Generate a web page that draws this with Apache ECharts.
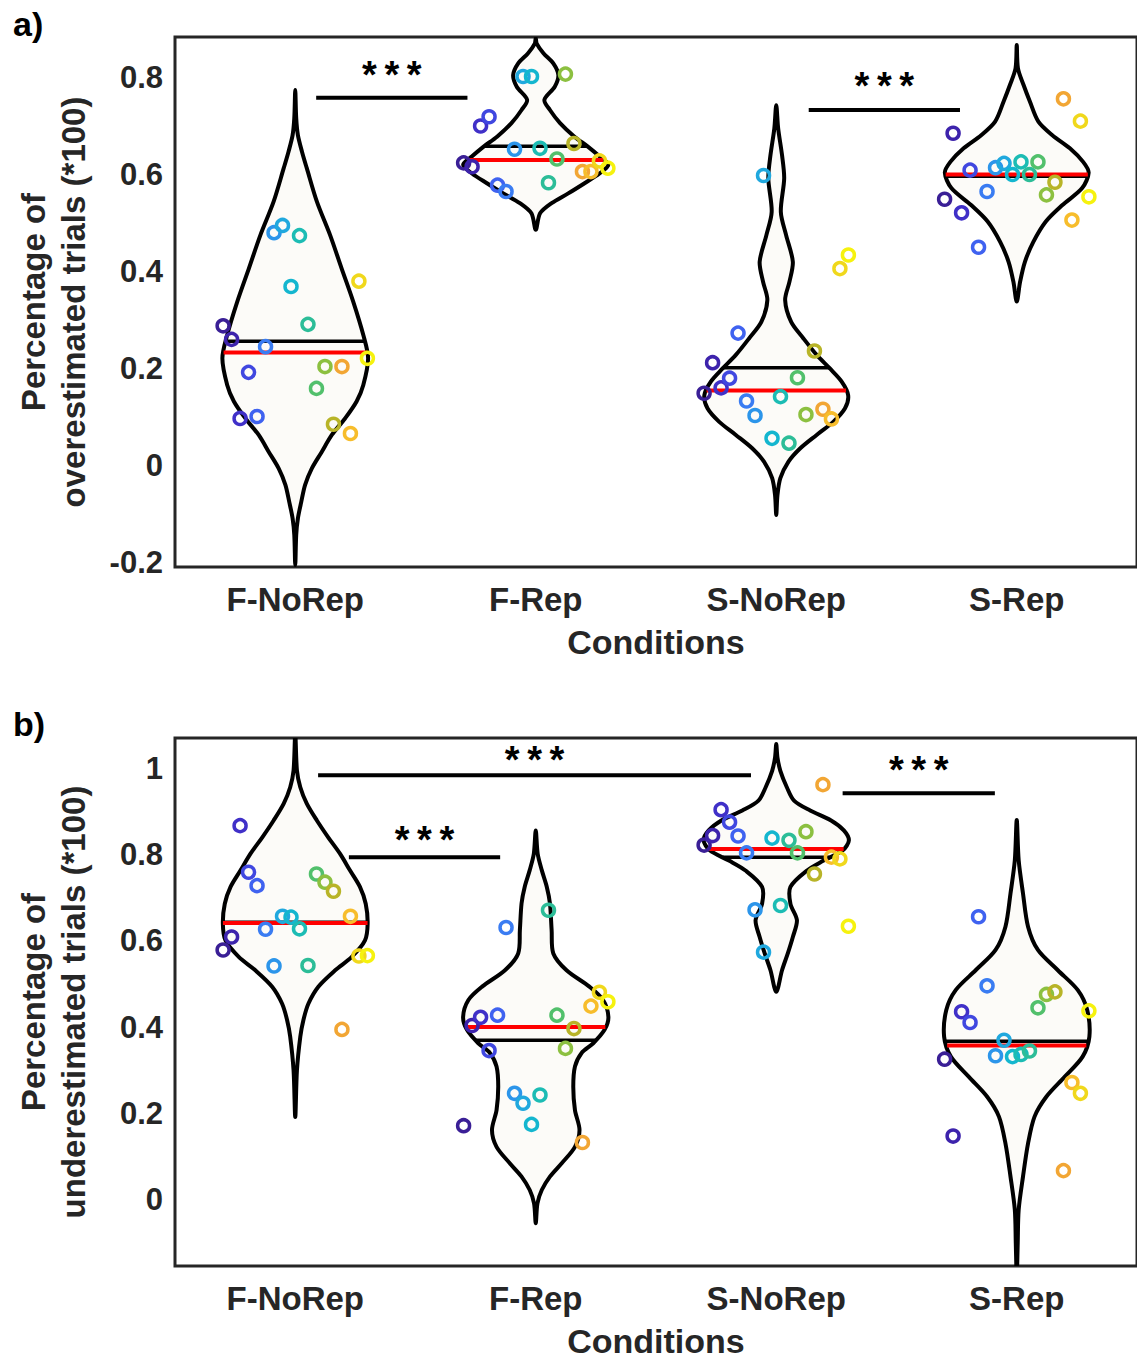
<!DOCTYPE html>
<html>
<head>
<meta charset="utf-8">
<script src="https://cdn.jsdelivr.net/npm/echarts@6/dist/echarts.min.js"></script>
<style>
html, body { margin: 0; padding: 0; background: #fff; }
#main { width: 1137px; height: 1362px; }
</style>
</head>
<body>
<div id="main"></div>
<script>
// conditions and axis ticks
var conditions = ['F-NoRep', 'F-Rep', 'S-NoRep', 'S-Rep'];
var yTicksA = [-0.2, 0, 0.2, 0.4, 0.6, 0.8];
var yTicksB = [0, 0.2, 0.4, 0.6, 0.8, 1];

// a) overestimated trials, one value per subject (subject 1..18)
var overFNoRep = [0.287, 0.259, 0.096, 0.191, 0.100, 0.244, 0.479, 0.494, 0.368, 0.473, 0.290, 0.158, 0.203, 0.084, 0.203, 0.065, 0.379, 0.220];
var overFRep = [0.623, 0.615, 0.699, 0.718, 0.577, 0.564, 0.651, 0.801, 0.801, 0.653, 0.582, 0.631, 0.806, 0.663, 0.605, 0.605, 0.627, 0.612];
var overSNoRep = [0.148, 0.211, 0.159, 0.179, 0.272, 0.132, 0.102, 0.597, 0.055, 0.141, 0.045, 0.180, 0.104, 0.235, 0.115, 0.095, 0.405, 0.433];
var overSRep = [0.548, 0.684, 0.520, 0.608, 0.449, 0.564, 0.613, 0.622, 0.599, 0.625, 0.599, 0.625, 0.557, 0.583, 0.755, 0.505, 0.709, 0.553];

// b) underestimated trials
var underFNoRep = [0.579, 0.609, 0.867, 0.759, 0.728, 0.627, 0.542, 0.657, 0.655, 0.628, 0.543, 0.755, 0.736, 0.715, 0.395, 0.657, 0.565, 0.566];
var underFRep = [0.172, 0.404, 0.423, 0.346, 0.428, 0.631, 0.247, 0.224, 0.175, 0.243, 0.671, 0.428, 0.351, 0.397, 0.133, 0.449, 0.481, 0.459];
var underSNoRep = [0.822, 0.844, 0.904, 0.875, 0.843, 0.804, 0.672, 0.574, 0.838, 0.682, 0.833, 0.804, 0.853, 0.755, 0.962, 0.794, 0.790, 0.634];
var underSRep = [0.326, 0.148, 0.436, 0.411, 0.656, 0.496, 0.334, 0.370, 0.332, 0.337, 0.345, 0.445, 0.476, 0.482, 0.068, 0.272, 0.247, 0.438];

// violin outlines: value levels (top to bottom) and half widths (x units)
var overFNoRepY = [0.773, 0.715, 0.680, 0.646, 0.612, 0.543, 0.474, 0.405, 0.337, 0.268, 0.220, 0.165, 0.131, 0.096, 0.062, 0.027, -0.007, -0.041, -0.076, -0.110, -0.144, -0.206];
var overFNoRepW = [0, 0.004, 0.011, 0.028, 0.048, 0.090, 0.145, 0.193, 0.241, 0.283, 0.303, 0.283, 0.255, 0.207, 0.152, 0.110, 0.069, 0.041, 0.025, 0.011, 0.004, 0];
var overFRepY = [0.880, 0.869, 0.849, 0.828, 0.804, 0.780, 0.753, 0.732, 0.705, 0.677, 0.656, 0.636, 0.619, 0.601, 0.581, 0.560, 0.540, 0.519, 0.485];
var overFRepW = [0, 0.004, 0.032, 0.073, 0.094, 0.079, 0.036, 0.059, 0.101, 0.161, 0.218, 0.266, 0.302, 0.265, 0.203, 0.135, 0.066, 0.018, 0];
var overSNoRepY = [0.742, 0.694, 0.639, 0.591, 0.522, 0.474, 0.419, 0.378, 0.340, 0.295, 0.261, 0.227, 0.199, 0.172, 0.144, 0.117, 0.089, 0.062, 0.034, 0.007, -0.027, -0.062, -0.103];
var overSNoRepW = [0, 0.008, 0.024, 0.033, 0.019, 0.041, 0.069, 0.055, 0.037, 0.062, 0.113, 0.168, 0.223, 0.272, 0.299, 0.286, 0.237, 0.168, 0.099, 0.051, 0.017, 0.005, 0];
var overSRepY = [0.866, 0.818, 0.784, 0.749, 0.708, 0.680, 0.653, 0.625, 0.603, 0.571, 0.536, 0.502, 0.460, 0.419, 0.378, 0.337];
var overSRepW = [0, 0.005, 0.028, 0.055, 0.090, 0.148, 0.221, 0.276, 0.299, 0.272, 0.190, 0.121, 0.069, 0.034, 0.014, 0];

var underFNoRepY = [1.080, 0.995, 0.956, 0.918, 0.879, 0.840, 0.802, 0.763, 0.725, 0.686, 0.640, 0.601, 0.563, 0.532, 0.494, 0.455, 0.417, 0.378, 0.300, 0.192];
var underFNoRepW = [0, 0.007, 0.021, 0.048, 0.090, 0.137, 0.186, 0.228, 0.269, 0.293, 0.301, 0.290, 0.235, 0.166, 0.096, 0.055, 0.034, 0.021, 0.007, 0];
var underFRepY = [0.856, 0.802, 0.764, 0.725, 0.687, 0.625, 0.571, 0.532, 0.494, 0.463, 0.424, 0.394, 0.363, 0.340, 0.309, 0.262, 0.208, 0.162, 0.123, 0.085, 0.054, 0.023, -0.008, -0.054];
var underFRepW = [0, 0.008, 0.025, 0.046, 0.059, 0.066, 0.073, 0.128, 0.223, 0.280, 0.302, 0.286, 0.239, 0.190, 0.163, 0.156, 0.163, 0.182, 0.163, 0.108, 0.059, 0.025, 0.007, 0];
var underSNoRepY = [1.056, 1.025, 0.994, 0.956, 0.925, 0.902, 0.879, 0.856, 0.833, 0.810, 0.786, 0.763, 0.725, 0.686, 0.648, 0.609, 0.571, 0.532, 0.482];
var underSNoRepW = [0, 0.005, 0.017, 0.044, 0.074, 0.141, 0.228, 0.281, 0.302, 0.277, 0.197, 0.128, 0.059, 0.059, 0.086, 0.069, 0.048, 0.024, 0];
var underSRepY = [0.880, 0.787, 0.710, 0.633, 0.579, 0.532, 0.486, 0.440, 0.378, 0.332, 0.285, 0.239, 0.193, 0.131, 0.054, -0.023, -0.100, -0.180];
var underSRepW = [0, 0.008, 0.026, 0.047, 0.088, 0.171, 0.254, 0.293, 0.302, 0.274, 0.199, 0.123, 0.074, 0.047, 0.026, 0.008, 0.004, 0];

// significance bars: [x from, x to, bar value, label value]
var sigA = [[1.087, 1.716, 0.757, 0.805], [3.135, 3.764, 0.732, 0.781]];
var sigB = [[1.095, 2.895, 0.984, 1.018], [1.223, 1.852, 0.794, 0.833], [3.276, 3.909, 0.942, 0.997]];

// subject colours (parula-like)
var subjectColors = ['#3a1f96', '#3d23ac', '#4030c8', '#4047e0', '#3f62f0', '#3a7cf2', '#2c95ea', '#20a8de', '#14b6cf',
	'#1cbcb4', '#2cbd98', '#52c06c', '#8cc040', '#b8b428', '#f2a634', '#f7bd2c', '#f0d81c', '#f6f20e'];

var FONT = "'Liberation Sans', Arial, sans-serif";
var TEXT_COLOR = '#262626';
var JITTER = 0.3;

var panelA = {
	values: [overFNoRep, overFRep, overSNoRep, overSRep],
	shapes: [[overFNoRepY, overFNoRepW], [overFRepY, overFRepW], [overSNoRepY, overSNoRepW], [overSRepY, overSRepW]],
	sig: sigA
};
var panelB = {
	values: [underFNoRep, underFRep, underSNoRep, underSRep],
	shapes: [[underFNoRepY, underFNoRepW], [underFRepY, underFRepW], [underSNoRepY, underSNoRepW], [underSRepY, underSRepW]],
	sig: sigB
};

function mean(arr) {
	var s = 0;
	for (var i = 0; i < arr.length; i++) s += arr[i];
	return s / arr.length;
}

function median(arr) {
	var a = arr.slice().sort(function (p, q) { return p - q; });
	var m = Math.floor(a.length / 2);
	return a.length % 2 ? a[m] : (a[m - 1] + a[m]) / 2;
}

// half width of a violin at value v (linear between outline levels)
function halfWidthAt(shape, v) {
	var ys = shape[0], ws = shape[1];
	for (var j = 0; j < ys.length - 1; j++) {
		if (v <= ys[j] && v >= ys[j + 1]) {
			var t = (ys[j] - v) / (ys[j] - ys[j + 1]);
			return ws[j] + t * (ws[j + 1] - ws[j]);
		}
	}
	return 0;
}

function buildSeries(panel, gi) {
	var cats = [];
	for (var k = 0; k < conditions.length; k++) {
		cats.push([k + 1, mean(panel.values[k]), median(panel.values[k])]);
	}

	var violins = {
		type: 'custom',
		xAxisIndex: gi,
		yAxisIndex: gi,
		clip: true,
		silent: true,
		z: 2,
		encode: { x: 0, y: 1 },
		data: cats,
		renderItem: function (params, api) {
			var k = params.dataIndex;
			var c = api.value(0);
			var ys = panel.shapes[k][0], ws = panel.shapes[k][1];
			var pts = [];
			for (var j = 0; j < ys.length; j++) {
				pts.push(api.coord([c + ws[j], ys[j]]));
			}
			for (var j = ys.length - 2; j >= 1; j--) {
				pts.push(api.coord([c - ws[j], ys[j]]));
			}
			return {
				type: 'polygon',
				shape: { points: pts, smooth: 0.3 },
				style: { fill: '#fcfbf8', stroke: '#000', lineWidth: 4 }
			};
		}
	};

	// mean (black) and median (red) lines across each violin
	var stats = {
		type: 'custom',
		xAxisIndex: gi,
		yAxisIndex: gi,
		silent: true,
		z: 3,
		encode: { x: 0, y: 1 },
		data: cats,
		renderItem: function (params, api) {
			var k = params.dataIndex;
			var c = api.value(0), mv = api.value(1), md = api.value(2);
			var wm = halfWidthAt(panel.shapes[k], mv);
			var wd = halfWidthAt(panel.shapes[k], md);
			var m1 = api.coord([c - wm, mv]), m2 = api.coord([c + wm, mv]);
			var d1 = api.coord([c - wd, md]), d2 = api.coord([c + wd, md]);
			return {
				type: 'group',
				children: [
					{ type: 'line', shape: { x1: m1[0], y1: m1[1], x2: m2[0], y2: m2[1] }, style: { stroke: '#000', lineWidth: 3.5 } },
					{ type: 'line', shape: { x1: d1[0], y1: d1[1], x2: d2[0], y2: d2[1] }, style: { stroke: '#ff0000', lineWidth: 4 } }
				]
			};
		}
	};

	// subject points, spread across the violin by subject index
	var pts = [];
	for (var k = 0; k < conditions.length; k++) {
		var vals = panel.values[k];
		for (var i = 0; i < vals.length; i++) {
			var off = -JITTER + 2 * JITTER * i / (vals.length - 1);
			pts.push({ value: [k + 1 + off, vals[i]], itemStyle: { borderColor: subjectColors[i] } });
		}
	}
	var scatter = {
		type: 'scatter',
		xAxisIndex: gi,
		yAxisIndex: gi,
		z: 4,
		symbol: 'circle',
		symbolSize: 12,
		silent: true,
		itemStyle: { color: 'rgba(0,0,0,0)', borderWidth: 3.5, opacity: 1 },
		data: pts
	};

	var sig = {
		type: 'custom',
		xAxisIndex: gi,
		yAxisIndex: gi,
		silent: true,
		z: 5,
		encode: { x: 0, y: 2 },
		data: panel.sig,
		renderItem: function (params, api) {
			var p1 = api.coord([api.value(0), api.value(2)]);
			var p2 = api.coord([api.value(1), api.value(2)]);
			var pt = api.coord([(api.value(0) + api.value(1)) / 2, api.value(3)]);
			return {
				type: 'group',
				children: [
					{ type: 'line', shape: { x1: p1[0], y1: p1[1], x2: p2[0], y2: p2[1] }, style: { stroke: '#000', lineWidth: 4 } },
					{ type: 'text', x: pt[0], y: pt[1], style: { text: '*\u2009*\u2009*', font: 'bold 38px ' + FONT, fill: '#000', align: 'center', verticalAlign: 'middle' } }
				]
			};
		}
	};

	return [violins, stats, scatter, sig];
}

function xAxisFor(gi) {
	return {
		type: 'value',
		gridIndex: gi,
		min: 0.5,
		max: 4.5,
		name: 'Conditions',
		nameLocation: 'middle',
		nameGap: 58,
		nameTextStyle: { fontFamily: FONT, fontWeight: 'bold', fontSize: 34, color: TEXT_COLOR },
		axisLine: { show: false },
		axisTick: { show: false },
		splitLine: { show: false },
		axisLabel: {
			customValues: [1, 2, 3, 4],
			margin: 16,
			fontFamily: FONT, fontWeight: 'bold', fontSize: 33, color: TEXT_COLOR,
			formatter: function (v) { return conditions[Math.round(v) - 1]; }
		}
	};
}

function yAxisFor(gi, min, max, ticks, name) {
	return {
		type: 'value',
		gridIndex: gi,
		min: min,
		max: max,
		name: name,
		nameLocation: 'middle',
		nameRotate: 90,
		nameGap: 82,
		nameTextStyle: { fontFamily: FONT, fontWeight: 'bold', fontSize: 33, color: TEXT_COLOR, lineHeight: 40 },
		axisLine: { show: false },
		axisTick: { show: false },
		splitLine: { show: false },
		axisLabel: {
			customValues: ticks,
			margin: 12,
			fontFamily: FONT, fontWeight: 'bold', fontSize: 31, color: TEXT_COLOR,
			formatter: function (v) { return String(Math.round(v * 10) / 10); }
		}
	};
}

var chart = echarts.init(document.getElementById('main'), null, { renderer: 'svg' });

var option = {
	backgroundColor: '#ffffff',
	animation: false,
	title: [
		{ text: 'a)', left: 8, top: 2, textStyle: { fontFamily: FONT, fontWeight: 'bold', fontSize: 34, color: '#000' } },
		{ text: 'b)', left: 8, top: 702, textStyle: { fontFamily: FONT, fontWeight: 'bold', fontSize: 34, color: '#000' } }
	],
	grid: [
		{ left: 175, top: 37, right: -5, height: 530, show: true, borderColor: '#262626', borderWidth: 3, backgroundColor: 'transparent' },
		{ left: 175, top: 738, right: -5, height: 528, show: true, borderColor: '#262626', borderWidth: 3, backgroundColor: 'transparent' }
	],
	xAxis: [xAxisFor(0), xAxisFor(1)],
	yAxis: [
		yAxisFor(0, -0.2103, 0.8825, yTicksA, 'Percentage of\noverestimated trials (*100)'),
		yAxisFor(1, -0.153, 1.07, yTicksB, 'Percentage of\nunderestimated trials (*100)')
	],
	series: buildSeries(panelA, 0).concat(buildSeries(panelB, 1))
};

chart.setOption(option);
</script>
</body>
</html>
